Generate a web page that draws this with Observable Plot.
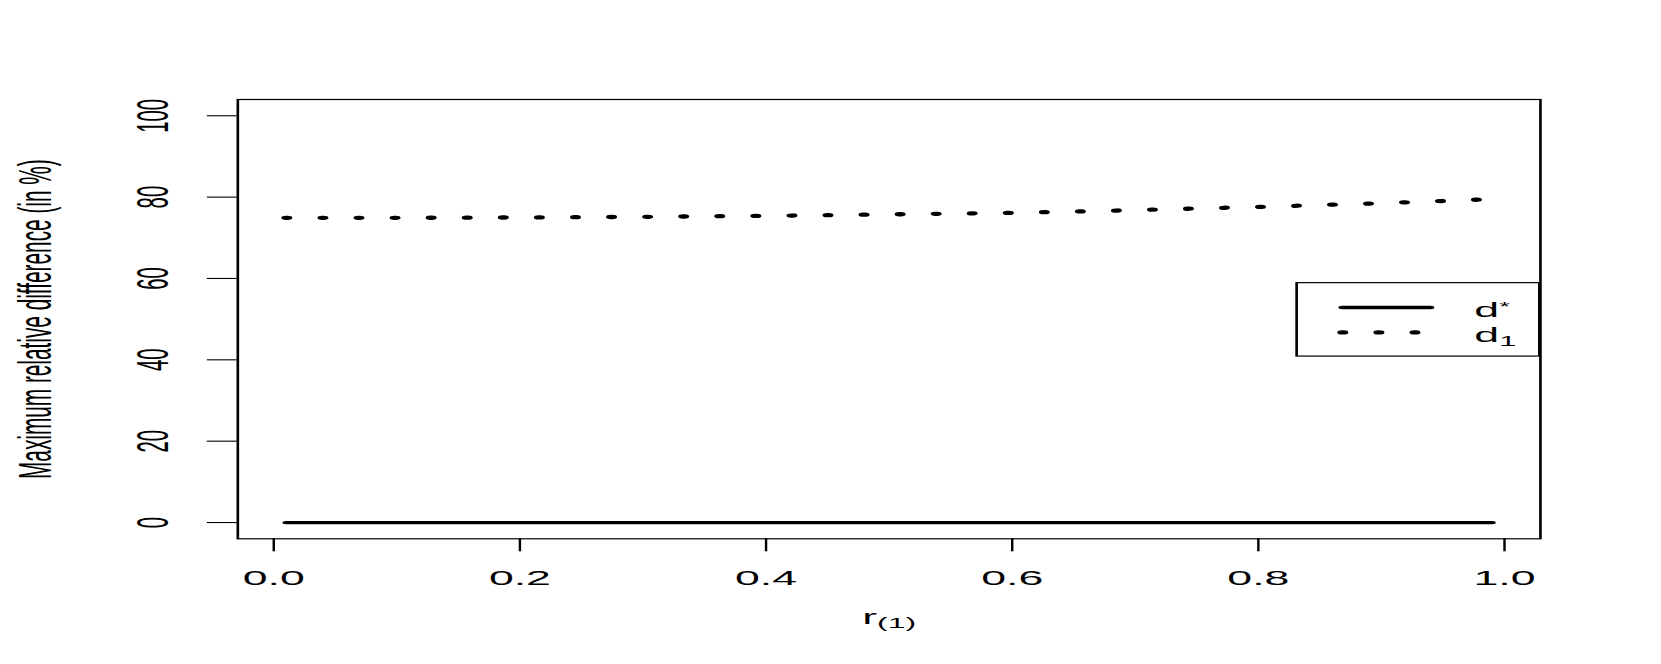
<!DOCTYPE html>
<html>
<head>
<meta charset="utf-8">
<script src="https://cdn.jsdelivr.net/npm/d3@7"></script>
<script src="https://cdn.jsdelivr.net/npm/@observablehq/plot@0.6"></script>
<style>
  html, body { margin: 0; padding: 0; background: #fff; }
  #chart { width: 1661px; height: 664px; overflow: hidden; }
  #chart svg { transform: scaleX(2.2); transform-origin: 0 0; overflow: visible; max-width: none; }
</style>
</head>
<body>
<div id="chart"></div>
<script>
// ---- data ----
const r      = [0.01, 0.1, 0.2, 0.3, 0.4, 0.5, 0.6, 0.7, 0.8, 0.9, 0.99];
const dStar  = [0, 0, 0, 0, 0, 0, 0, 0, 0, 0, 0];
const d1     = [74.9, 74.9, 75.0, 75.15, 75.4, 75.75, 76.15, 76.8, 77.6, 78.5, 79.5];
const xTicks = [0, 0.2, 0.4, 0.6, 0.8, 1.0];
const yTicks = [0, 20, 40, 60, 80, 100];
const yLim   = [0, 100];
const xTitleBase = "r";
const xTitleSub  = "(1)";
const yTitle = "Maximum relative difference (in %)";
const seriesBase = ["d", "d"];
const seriesMark = ["*", "1"];
const seriesMarkKind = ["sup", "sub"];

// ---- layout ----
const K = 2.2;                 // horizontal stretch of the original device
const W = 1661 / K, H = 664;
const FONT = 20.3;
const pad4 = ([a, b]) => [a - 0.04 * (b - a), b + 0.04 * (b - a)];
const xDom = pad4(d3.extent(r));
const yDom = pad4(yLim);

const rows = r.map((v, i) => ({r: v, dStar: dStar[i], d1: d1[i]}));

// legend placement (in data units, right-aligned to the plot box)
const legBox = {x1: 0.832, x2: xDom[1], y1: 40.8, y2: 58.85};
const legSample = [0.868, 0.940];
const legRowY = [52.87, 46.74];
const legTextX = 0.9755;
const legendItems = seriesBase.map((b, i) => ({base: b, mark: seriesMark[i], kind: seriesMarkKind[i], y: legRowY[i], tag: "legend-" + i}));
const legendLines = legendItems.flatMap((it, i) => legSample.map(x => ({x, y: it.y, id: i})));

const svg = Plot.plot({
  width: W,
  height: H,
  marginLeft: 107.6,
  marginRight: 55.3,
  marginTop: 99,
  marginBottom: 125.7,
  style: {fontFamily: "'Liberation Sans', Arial, Helvetica, sans-serif", background: "white", color: "black"},
  x: {domain: xDom},
  y: {domain: yDom},
  marks: [
    Plot.frame({stroke: "black", strokeWidth: 1.2}),
    Plot.axisX({ticks: xTicks, tickFormat: d3.format(".1f"), tickSize: 13, tickPadding: 18.7, fontSize: FONT, label: null, strokeWidth: 1.1}),
    Plot.axisY({ticks: yTicks, tickFormat: d3.format("d"), tickSize: 13.6, tickPadding: 18, tickRotate: -90, fontSize: FONT, label: null, strokeWidth: 1.1}),
    Plot.line(rows, {x: "r", y: "dStar", stroke: "black", strokeWidth: 3.3, strokeLinecap: "round"}),
    Plot.line(rows, {x: "r", y: "d1", stroke: "black", strokeWidth: 4.3, strokeLinecap: "round", strokeDasharray: "0.7 15.7"}),
    // legend
    Plot.rect([legBox], {x1: "x1", x2: "x2", y1: "y1", y2: "y2", fill: "white", stroke: "black", strokeWidth: 1.2}),
    Plot.line(legendLines.filter(d => d.id === 0), {x: "x", y: "y", stroke: "black", strokeWidth: 3.3, strokeLinecap: "round"}),
    Plot.line(legendLines.filter(d => d.id === 1), {x: "x", y: "y", stroke: "black", strokeWidth: 4.3, strokeLinecap: "round", strokeDasharray: "0.7 15.7"}),
    Plot.text(legendItems, {x: () => legTextX, y: "y", text: "base", textAnchor: "start", lineAnchor: "bottom", dy: 9.3, fontSize: FONT, fill: "black", ariaLabel: "tag"}),
    // titles
    Plot.text([xTitleBase], {frameAnchor: "bottom", text: d => d, textAnchor: "middle", lineAnchor: "bottom", dy: 84.7, fontSize: FONT, fill: "black", ariaLabel: () => "x-title"}),
    Plot.text([yTitle], {frameAnchor: "left", text: d => d, rotate: -90, textAnchor: "middle", lineAnchor: "bottom", dx: -85, fontSize: FONT + 0.5, fill: "black"})
  ]
});

// sub/superscripts
const NS = "http://www.w3.org/2000/svg";
function addScript(textEl, str, dy, size) {
  if (!textEl) return;
  const t = document.createElementNS(NS, "tspan");
  t.setAttribute("dy", dy);
  t.setAttribute("font-size", size);
  t.textContent = str;
  textEl.appendChild(t);
}
function findText(label, base) {
  let el = svg.querySelector('text[aria-label="' + label + '"]') ||
           svg.querySelector('[aria-label="' + label + '"] text');
  if (!el) el = Array.from(svg.querySelectorAll("text")).find(t => t.textContent === base && !t.dataset.done);
  if (el) el.dataset.done = "1";
  return el;
}
addScript(findText("x-title", xTitleBase), xTitleSub, 4, 14.5);
legendItems.forEach(it => {
  const el = findText(it.tag, it.base);
  if (it.kind === "sup") addScript(el, it.mark, -6, 12.5);
  else addScript(el, it.mark, 4.5, 14);
});

document.getElementById("chart").appendChild(svg);
</script>
</body>
</html>
